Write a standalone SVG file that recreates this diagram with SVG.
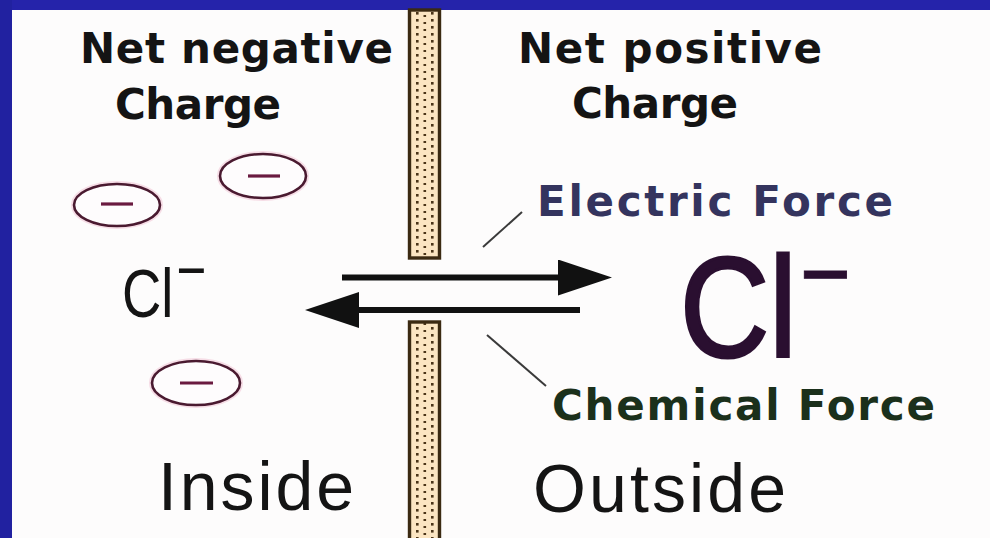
<svg xmlns="http://www.w3.org/2000/svg" width="990" height="538" viewBox="0 0 990 538">
<defs>
<style>
.lbl{font-family:"DejaVu Sans",sans-serif;font-weight:bold;font-size:42px;fill:#141414}
.big{font-family:"Liberation Sans",Arial,sans-serif;font-weight:normal}
.halo{fill:none;stroke:#f6dde6;stroke-width:6}
.ring{fill:#fefcfd;stroke:#4a1a30;stroke-width:2.6}
.neg{stroke:#6a1a40;stroke-width:3.2}
.mem{fill:url(#dots);stroke:#3b2a12;stroke-width:3.4}
.arrow{stroke:#111;stroke-width:6;fill:none}
.lead{stroke:#3a3a3a;stroke-width:2;fill:none}
</style>
<pattern id="dots" patternUnits="userSpaceOnUse" x="409" y="10" width="31" height="7">
<rect width="31" height="7" fill="#fbe5c2"/>
<rect x="7" y="2" width="2.6" height="2.6" fill="#4a3418"/>
<rect x="14.5" y="5" width="2.6" height="2.6" fill="#4a3418"/>
<rect x="22" y="2" width="2.6" height="2.6" fill="#4a3418"/>
</pattern>
<marker id="head" markerUnits="userSpaceOnUse" markerWidth="58" markerHeight="40" refX="1" refY="18" orient="auto">
<path d="M0,0 L54,18 L0,36 Z" fill="#111"/>
</marker>
</defs>
<rect x="0" y="0" width="990" height="538" fill="#fdfcfc"/>
<g id="frame">
<rect x="0" y="0" width="990" height="10" fill="#2523aa"/>
<rect x="0" y="0" width="12" height="538" fill="#2121a0"/>
</g>
<g id="membrane">
<rect class="mem" x="409.5" y="10" width="30" height="248"/>
<rect class="mem" x="409.5" y="322" width="30" height="220"/>
</g>
<g id="charges">
<g id="charge1">
<ellipse class="halo" cx="117" cy="205" rx="43" ry="21"/>
<ellipse class="ring" cx="117" cy="205" rx="43" ry="21"/>
<line class="neg" x1="101" y1="204" x2="133" y2="204"/>
</g>
<g id="charge2">
<ellipse class="halo" cx="263" cy="176" rx="43" ry="22"/>
<ellipse class="ring" cx="263" cy="176" rx="43" ry="22"/>
<line class="neg" x1="248" y1="176" x2="280" y2="176"/>
</g>
<g id="charge3">
<ellipse class="halo" cx="196" cy="383" rx="44" ry="22"/>
<ellipse class="ring" cx="196" cy="383" rx="44" ry="22"/>
<line class="neg" x1="180" y1="383" x2="213" y2="383"/>
</g>
</g>
<g id="connectors">
<line class="arrow" x1="342" y1="277.5" x2="559" y2="277.5" marker-end="url(#head)"/>
<line class="arrow" x1="580" y1="310" x2="358" y2="310" marker-end="url(#head)"/>
<line class="lead" x1="483" y1="247" x2="522" y2="212"/>
<line class="lead" x1="487" y1="335" x2="546" y2="386"/>
</g>
<g id="labels">
<text class="lbl" x="80" y="63" textLength="313">Net negative</text>
<text class="lbl" x="115" y="119" textLength="166">Charge</text>
<text class="lbl" x="518" y="63" textLength="304">Net positive</text>
<text class="lbl" x="572" y="118" textLength="166">Charge</text>
<text class="lbl" x="537" y="216" textLength="356" style="fill:#34345e">Electric Force</text>
<text class="lbl" x="552" y="420" textLength="383" style="fill:#1b301b">Chemical Force</text>
</g>
<g id="ion-inside">
<text class="big" transform="translate(122,317) scale(0.8,1)" font-size="68" fill="#141414">Cl<tspan font-size="64" dx="4" dy="-25">−</tspan></text>
</g>
<g id="ion-outside">
<text class="big" transform="translate(680,357) scale(0.87,1)" font-size="142" fill="#2a0f30" stroke="#2a0f30" stroke-width="3">Cl<tspan font-size="100" stroke-width="1" dx="4" dy="-49">−</tspan></text>
</g>
<g id="sides">
<text class="big" x="158" y="510" font-size="68" textLength="196" fill="#141414">Inside</text>
<text class="big" x="533" y="512" font-size="68" textLength="253" fill="#141414">Outside</text>
</g>
</svg>
